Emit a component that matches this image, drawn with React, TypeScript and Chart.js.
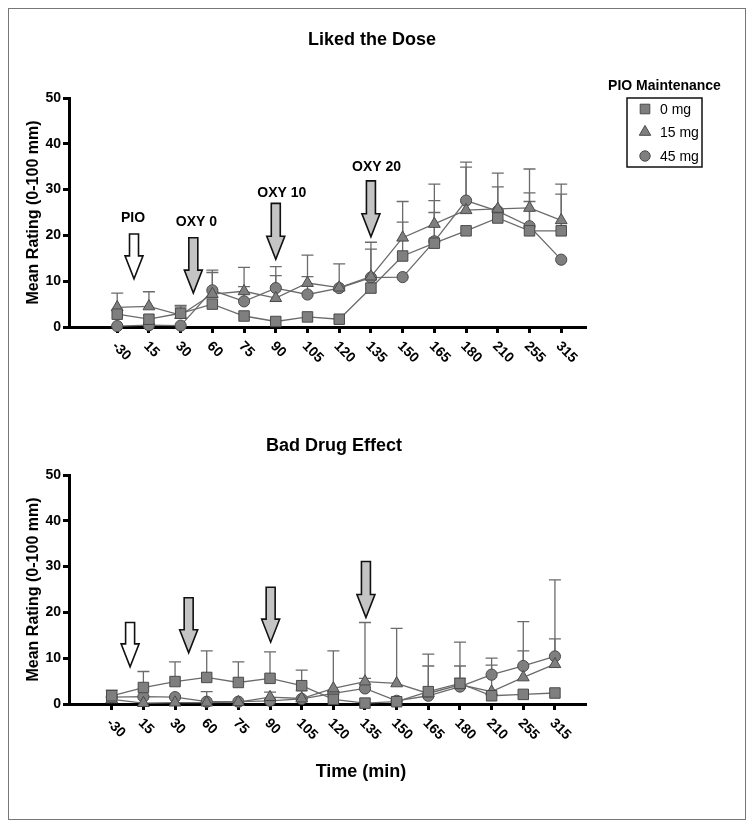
import React, { useEffect, useRef } from 'react';
import { Chart, registerables } from 'chart.js';

Chart.register(...registerables);

const FONT = "'Liberation Sans', Arial, Helvetica, sans-serif";

// Time points (min)
const timeLabels = ['-30', '15', '30', '60', '75', '90', '105', '120', '135', '150', '165', '180', '210', '255', '315'];
const groupLabels = ['0 mg', '15 mg', '45 mg'];

// Liked the Dose (mean rating, 0-100 mm)
const liked0 = [2.8, 1.7, 3.0, 5.0, 2.4, 1.2, 2.2, 1.7, 8.5, 15.5, 18.3, 21.0, 23.8, 21.0, 21.0];
const liked15 = [4.3, 4.5, 2.6, 7.2, 7.8, 6.3, 9.6, 8.6, 11.0, 19.5, 22.5, 25.5, 25.8, 26.0, 23.3];
const liked45 = [0.2, 0.4, 0.3, 8.0, 5.6, 8.5, 7.1, 8.5, 10.8, 10.9, 18.7, 27.6, 25.3, 22.0, 14.7];
// upper error (SEM)
const likedSem0 = [null, null, 1.7, null, null, null, null, null, null, 7.4, 6.7, null, null, 6.4, 8.0];
const likedSem15 = [3.1, 3.2, 1.8, 4.7, 5.2, 4.9, 6.1, null, 6.0, 7.9, 8.7, 9.4, 7.8, 8.5, 7.9];
const likedSem45 = [null, null, null, 4.4, 3.2, 4.7, 3.9, 5.3, 7.7, null, 8.9, 8.4, 5.3, 7.3, null];

// Bad Drug Effect
const bad0 = [1.8, 3.6, 4.9, 5.8, 4.7, 5.6, 4.0, 1.0, 0.2, 0.5, 2.7, 4.5, 1.8, 2.1, 2.4];
const bad15 = [1.0, 0.2, 0.3, 0.3, 0.4, 1.5, 1.2, 3.4, 4.9, 4.5, 2.3, 4.2, 2.7, 5.8, 8.7];
const bad45 = [1.5, 1.6, 1.5, 0.5, 0.5, 0.7, 1.1, 2.3, 3.4, 0.7, 1.8, 3.8, 6.4, 8.3, 10.4];
const badSem0 = [1.2, 3.5, 4.3, 5.8, 4.5, 5.8, 3.4, 10.6, null, null, 8.2, 9.0, null, null, null];
const badSem15 = [null, null, null, null, null, 1.1, 1.7, null, 0.7, 12.0, null, 1.4, 5.8, 5.8, 5.5];
const badSem45 = [null, null, null, 2.2, null, null, null, null, 14.4, null, 6.5, 4.5, 3.6, 9.7, 16.7];

// Dosing arrows (x in time-point index units, y in rating units)
const arrowLabels = ['PIO', 'OXY 0', 'OXY 10', 'OXY 20'];
const arrowFills = ['#ffffff', '#c4c4c4', '#c4c4c4', '#c4c4c4'];
const likedArrowX = [0.53, 2.4, 5.0, 8.0];
const likedArrowTop = [20.3, 19.5, 27.0, 31.9];
const likedArrowTip = [10.5, 7.4, 14.8, 19.7];
const likedLabelX = [0.5, 2.5, 5.19, 8.18];
const likedLabelY = [23.8, 22.8, 29.3, 35.0];
const badArrowX = [0.58, 2.43, 5.02, 8.03];
const badArrowTop = [17.8, 23.2, 25.5, 31.1];
const badArrowTip = [8.1, 11.2, 13.5, 18.9];

const yTicks = [0, 10, 20, 30, 40, 50];

const MARK_FILL = '#7f7f7f';
const MARK_EDGE = '#4a4a4a';
const LINE_COL = '#6b6b6b';

type Panel = {
  title: string;
  titleX: number;
  titleY: number;
  values: number[][];
  sems: (number | null)[][];
  xMin: number;
  xMax: number;
  top: number;
  xAxisH: number;
  arrowX: number[];
  arrowTop: number[];
  arrowTip: number[];
  labels: boolean;
  labelX?: number[];
  labelY?: number[];
  legend: boolean;
  xTitle?: string;
  xTitleX?: number;
  xTitleY?: number;
};

const pointStyles = ['rect', 'triangle', 'circle'];
const pointRadii = [7.4, 6.8, 5.6];

function drawArrow(ctx: CanvasRenderingContext2D, x: number, top: number, tip: number, fill: string) {
  const sw = 9;
  const hw = 18;
  const hl = 23;
  const hb = tip - hl;
  ctx.beginPath();
  ctx.moveTo(x - sw / 2, top);
  ctx.lineTo(x + sw / 2, top);
  ctx.lineTo(x + sw / 2, hb);
  ctx.lineTo(x + hw / 2, hb);
  ctx.lineTo(x, tip);
  ctx.lineTo(x - hw / 2, hb);
  ctx.lineTo(x - sw / 2, hb);
  ctx.closePath();
  ctx.fillStyle = fill;
  ctx.fill();
  ctx.lineWidth = 1.6;
  ctx.strokeStyle = '#111';
  ctx.lineJoin = 'miter';
  ctx.stroke();
}

function drawMarker(ctx: CanvasRenderingContext2D, kind: number, x: number, y: number) {
  ctx.beginPath();
  if (kind === 0) {
    ctx.rect(x - 4.8, y - 4.8, 9.6, 9.6);
  } else if (kind === 1) {
    const r = 6.6;
    ctx.moveTo(x, y - r);
    ctx.lineTo(x + r * 0.866, y + r * 0.5);
    ctx.lineTo(x - r * 0.866, y + r * 0.5);
    ctx.closePath();
  } else {
    ctx.arc(x, y, 5.2, 0, Math.PI * 2);
  }
  ctx.fillStyle = MARK_FILL;
  ctx.fill();
  ctx.lineWidth = 1;
  ctx.strokeStyle = MARK_EDGE;
  ctx.stroke();
}

function makeConfig(p: Panel): any {
  const errorBars = {
    id: 'errorBars',
    beforeDatasetsDraw(chart: any) {
      const ctx = chart.ctx;
      const ys = chart.scales.y;
      ctx.save();
      ctx.strokeStyle = LINE_COL;
      ctx.lineWidth = 1.3;
      p.values.forEach((vals, di) => {
        const meta = chart.getDatasetMeta(di);
        meta.data.forEach((pt: any, i: number) => {
          const e = p.sems[di][i];
          if (e == null) return;
          const yt = ys.getPixelForValue(vals[i] + e);
          ctx.beginPath();
          ctx.moveTo(pt.x, pt.y);
          ctx.lineTo(pt.x, yt);
          ctx.moveTo(pt.x - 6, yt);
          ctx.lineTo(pt.x + 6, yt);
          ctx.stroke();
        });
      });
      ctx.restore();
    },
  };

  const decor = {
    id: 'decor',
    afterDraw(chart: any) {
      const ctx = chart.ctx;
      const xs = chart.scales.x;
      const ys = chart.scales.y;
      const area = chart.chartArea;
      ctx.save();
      // title
      ctx.fillStyle = '#000';
      ctx.font = `bold 18px ${FONT}`;
      ctx.textAlign = 'center';
      ctx.textBaseline = 'middle';
      ctx.fillText(p.title, p.titleX, p.titleY);

      // x tick labels, rotated clockwise
      ctx.font = `bold 14px ${FONT}`;
      timeLabels.forEach((lab, i) => {
        const px = xs.getPixelForValue(i);
        ctx.save();
        ctx.translate(px - 3, area.bottom + 17);
        ctx.rotate(Math.PI / 4);
        ctx.textAlign = 'left';
        ctx.textBaseline = 'middle';
        ctx.fillText(lab, 0, 0);
        ctx.restore();
      });

      // arrows
      p.arrowX.forEach((ax, i) => {
        drawArrow(
          ctx,
          xs.getPixelForValue(ax),
          ys.getPixelForValue(p.arrowTop[i]),
          ys.getPixelForValue(p.arrowTip[i]),
          arrowFills[i]
        );
      });
      if (p.labels && p.labelX && p.labelY) {
        ctx.fillStyle = '#000';
        ctx.font = `bold 14px ${FONT}`;
        ctx.textAlign = 'center';
        ctx.textBaseline = 'middle';
        arrowLabels.forEach((lab, i) => {
          ctx.fillText(lab, xs.getPixelForValue(p.labelX![i]), ys.getPixelForValue(p.labelY![i]));
        });
      }

      // x axis title
      if (p.xTitle) {
        ctx.fillStyle = '#000';
        ctx.font = `bold 18px ${FONT}`;
        ctx.textAlign = 'center';
        ctx.textBaseline = 'middle';
        ctx.fillText(p.xTitle, p.xTitleX!, p.xTitleY!);
      }

      // legend
      if (p.legend) {
        ctx.fillStyle = '#000';
        ctx.font = `bold 14px ${FONT}`;
        ctx.textAlign = 'center';
        ctx.textBaseline = 'middle';
        ctx.fillText('PIO Maintenance', 655.5, 77.5);
        ctx.lineWidth = 1.5;
        ctx.strokeStyle = '#111';
        ctx.strokeRect(618, 89, 75, 69);
        const rows = [100, 123, 147];
        ctx.font = `14px ${FONT}`;
        ctx.textAlign = 'left';
        groupLabels.forEach((g, i) => {
          drawMarker(ctx, i, 636, rows[i]);
          ctx.fillStyle = '#000';
          ctx.fillText(g, 651, rows[i] + 1);
        });
      }
      ctx.restore();
    },
  };

  const datasets = p.values.map((vals, di) => ({
    label: groupLabels[di],
    data: vals.map((v, i) => ({ x: i, y: v })),
    borderColor: LINE_COL,
    borderWidth: 1.3,
    backgroundColor: MARK_FILL,
    pointStyle: pointStyles[di],
    pointRadius: pointRadii[di],
    pointBackgroundColor: MARK_FILL,
    pointBorderColor: MARK_EDGE,
    pointBorderWidth: 1,
    tension: 0,
    fill: false,
    clip: false,
  }));

  return {
    type: 'line',
    data: { datasets },
    options: {
      animation: false,
      responsive: false,
      events: [],
      layout: { padding: { left: 0, right: 160, top: p.top, bottom: 0 } },
      plugins: { legend: { display: false }, tooltip: { enabled: false }, title: { display: false } },
      scales: {
        x: {
          type: 'linear',
          min: p.xMin,
          max: p.xMax,
          afterBuildTicks: (s: any) => {
            s.ticks = timeLabels.map((_, i) => ({ value: i }));
          },
          afterFit: (s: any) => {
            s.height = p.xAxisH;
          },
          ticks: { display: false },
          grid: { drawOnChartArea: false, color: '#000', lineWidth: 3, tickLength: 6 },
          border: { color: '#000', width: 3 },
        },
        y: {
          min: 0,
          max: 50,
          afterBuildTicks: (s: any) => {
            s.ticks = yTicks.map((v) => ({ value: v }));
          },
          afterFit: (s: any) => {
            s.width = 60;
          },
          ticks: { color: '#000', font: { family: FONT, size: 14, weight: 'bold' }, padding: 2 },
          grid: { drawOnChartArea: false, color: '#000', lineWidth: 3, tickLength: 6 },
          border: { color: '#000', width: 3 },
          title: {
            display: true,
            text: 'Mean Rating (0-100 mm)',
            color: '#000',
            font: { family: FONT, size: 16, weight: 'bold' },
            padding: { top: 15, bottom: 0 },
          },
        },
      },
    },
    plugins: [errorBars, decor],
  };
}

const likedPanel: Panel = {
  title: 'Liked the Dose',
  titleX: 363,
  titleY: 31,
  values: [liked0, liked15, liked45],
  sems: [likedSem0, likedSem15, likedSem45],
  xMin: -1.52,
  xMax: 14.75,
  top: 89,
  xAxisH: 82,
  arrowX: likedArrowX,
  arrowTop: likedArrowTop,
  arrowTip: likedArrowTip,
  labels: true,
  labelX: likedLabelX,
  labelY: likedLabelY,
  legend: true,
};

const badPanel: Panel = {
  title: 'Bad Drug Effect',
  titleX: 325,
  titleY: 37,
  values: [bad0, bad15, bad45],
  sems: [badSem0, badSem15, badSem45],
  xMin: -1.35,
  xMax: 14.95,
  top: 66,
  xAxisH: 115,
  arrowX: badArrowX,
  arrowTop: badArrowTop,
  arrowTip: badArrowTip,
  labels: false,
  legend: false,
  xTitle: 'Time (min)',
  xTitleX: 352,
  xTitleY: 363,
};

function PanelChart({ panel, width, height, top }: { panel: Panel; width: number; height: number; top: number }) {
  const ref = useRef<HTMLCanvasElement | null>(null);
  useEffect(() => {
    if (!ref.current) return;
    const chart = new Chart(ref.current, makeConfig(panel));
    return () => chart.destroy();
  }, [panel]);
  return (
    <canvas
      ref={ref}
      width={width}
      height={height}
      style={{ position: 'absolute', left: 0, top, width, height, display: 'block' }}
    />
  );
}

export default function App() {
  return (
    <div
      style={{
        position: 'relative',
        width: 738,
        height: 812,
        boxSizing: 'border-box',
        border: '1px solid #777',
        background: '#fff',
      }}
    >
      <PanelChart panel={likedPanel} width={736} height={400} top={0} />
      <PanelChart panel={badPanel} width={736} height={410} top={400} />
    </div>
  );
}
